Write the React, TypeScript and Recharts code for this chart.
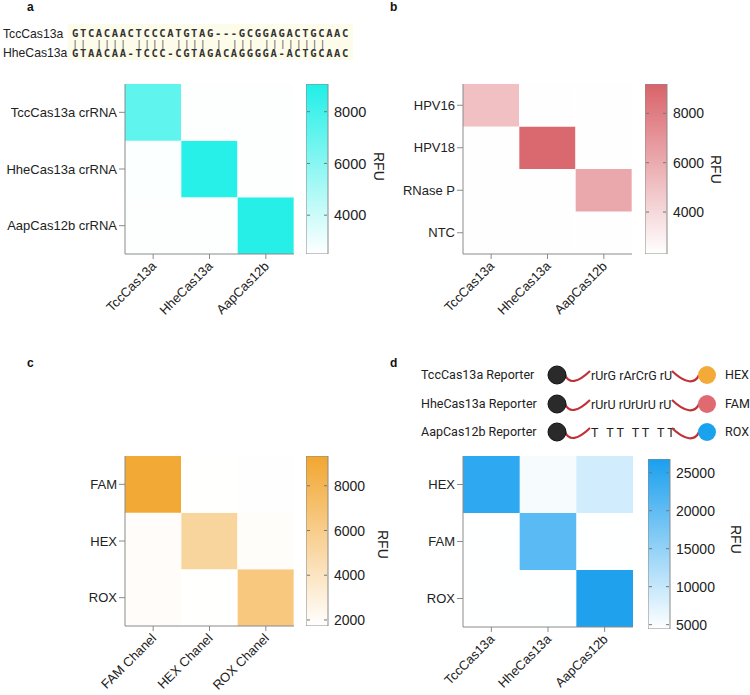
import { Bar, BarChart, Cell, XAxis, YAxis } from "recharts";

// panel a
const crRnaRows = ["TccCas13a crRNA", "HheCas13a crRNA", "AapCas12b crRNA"];
const casCols = ["TccCas13a", "HheCas13a", "AapCas12b"];
const aValues = [
  [7200, 2550, 2550],
  [2620, 8850, 2550],
  [2550, 2550, 8900],
];
const aTicks = [4000, 6000, 8000];

// panel b
const hpvRows = ["HPV16", "HPV18", "RNase P", "NTC"];
const bValues = [
  [5100, 2350, 2350],
  [2350, 8950, 2350],
  [2350, 2350, 6150],
  [2350, 2350, 2350],
];
const bTicks = [4000, 6000, 8000];

// panel c
const dyeRows = ["FAM", "HEX", "ROX"];
const chanelCols = ["FAM Chanel", "HEX Chanel", "ROX Chanel"];
const cValues = [
  [9100, 1760, 1780],
  [1950, 5300, 1900],
  [1950, 1760, 6450],
];
const cTicks = [2000, 4000, 6000, 8000];

// panel d
const reporterRows = ["HEX", "FAM", "ROX"];
const dValues = [
  [24800, 5300, 8900],
  [4500, 20500, 4500],
  [4500, 4500, 26300],
];
const dTicks = [5000, 10000, 15000, 20000, 25000];

const seqTcc = "GTCACAACTCCCATGTAG---GCGGAGACTGCAAC";
const seqMatch = "|| |||| ||||  ||||   | ||| ||||||||";
const seqHhe = "GTAACAA-TCCC-CGTAGACAGGGGA-ACTGCAAC";

const reporterNames = ["TccCas13a Reporter", "HheCas13a Reporter", "AapCas12b Reporter"];
const reporterSeqs = ["rUrG rArCrG rU", "rUrU rUrUrU rU", "T TT TT TT"];
const reporterDyes = ["HEX", "FAM", "ROX"];
const dyeColors = ["#f4aa38", "#df6b71", "#1ba2ee"];

const GRAY = "#8a8a8a";

function shade(hex: string, t: number) {
  const f = Math.max(0, Math.min(1, t));
  const c = [1, 3, 5].map((i) => parseInt(hex.slice(i, i + 2), 16));
  const m = c.map((v) => Math.round(255 + (v - 255) * f));
  return `rgb(${m[0]},${m[1]},${m[2]})`;
}

const XTick = ({ x, y, payload }: any) => (
  <text
    x={x + 4}
    y={y + 6}
    transform={`rotate(-45 ${x + 4} ${y + 6})`}
    textAnchor="end"
    fontSize={13}
    fill="#222"
  >
    {payload.value}
  </text>
);

function Heatmap({ rows, cols, values, color, lo, hi, plot }: any) {
  const n = rows.length;
  const data = cols.map((c: string) => {
    const d: any = { col: c };
    rows.forEach((_: string, i: number) => (d[`r${i}`] = 1));
    return d;
  });
  const yTicks = rows.map((_: string, i: number) => n - i - 0.5);
  const yW = 130;
  return (
    <div style={{ position: "absolute", left: plot.x - yW, top: plot.y }}>
      <BarChart
        width={yW + plot.w}
        height={plot.h + 90}
        data={data}
        margin={{ top: 0, right: 0, bottom: 0, left: 0 }}
        barCategoryGap={0}
        barGap={0}
      >
        <XAxis dataKey="col" interval={0} height={90} tickSize={5} tickMargin={2} stroke={GRAY} tick={<XTick />} />
        <XAxis xAxisId="top" orientation="top" dataKey="col" height={0} tick={false} tickLine={false} stroke={GRAY} />
        <YAxis
          type="number"
          domain={[0, n]}
          ticks={yTicks}
          interval={0}
          width={yW}
          tickSize={6}
          stroke={GRAY}
          tick={{ fill: "#222", fontSize: 13 }}
          tickFormatter={(v: number) => rows[Math.round(n - 0.5 - v)]}
        />
        <YAxis yAxisId="right" orientation="right" type="number" domain={[0, n]} width={0} tick={false} tickLine={false} stroke={GRAY} />
        {rows.map((_: string, k: number) => {
          const i = n - 1 - k;
          return (
            <Bar key={i} dataKey={`r${i}`} stackId="s" isAnimationActive={false}>
              {cols.map((c: string, j: number) => (
                <Cell key={c} fill={shade(color, (values[i][j] - lo) / (hi - lo))} />
              ))}
            </Bar>
          );
        })}
      </BarChart>
    </div>
  );
}

const CbTick = ({ x, y, payload, w, fs }: any) => (
  <g>
    <line x1={x - 4} x2={x - 1} y1={y} y2={y} stroke="#777" />
    <line x1={x - w + 1} x2={x - w + 4} y1={y} y2={y} stroke="#777" />
    <text x={x + 6} y={y} dy="0.36em" fontSize={fs} fill="#222">
      {payload.value}
    </text>
  </g>
);

function ColorBar({ id, color, lo, hi, ticks, x, y, w, h, fs }: any) {
  const pad = 10;
  return (
    <div style={{ position: "absolute", left: x, top: y - pad }}>
      <BarChart
        width={w + 70}
        height={h + 2 * pad}
        data={[{ k: "c", v: [lo, hi] }]}
        margin={{ top: pad, right: 0, bottom: pad, left: 0 }}
        barCategoryGap={0}
      >
        <defs>
          <linearGradient id={id} x1="0" y1="0" x2="0" y2="1">
            <stop offset="0" stopColor={color} />
            <stop offset="1" stopColor="#ffffff" />
          </linearGradient>
        </defs>
        <XAxis dataKey="k" hide />
        <YAxis
          orientation="right"
          type="number"
          domain={[lo, hi]}
          ticks={ticks}
          interval={0}
          width={70}
          axisLine={false}
          tickLine={false}
          tickSize={0}
          tickMargin={0}
          allowDataOverflow
          tick={<CbTick w={w} fs={fs} />}
        />
        <Bar dataKey="v" fill={`url(#${id})`} stroke={GRAY} isAnimationActive={false} />
      </BarChart>
    </div>
  );
}

function Wave({ x1, x2, y, down }: any) {
  const m = (x1 + x2) / 2;
  return (
    <path
      d={down
        ? `M${x1},${y} C${x1 + 4},${y + 9} ${m},${y + 8} ${x2},${y - 4}`
        : `M${x1},${y - 4} C${m},${y + 9} ${x2 - 4},${y + 9} ${x2},${y}`}
      fill="none"
      stroke="#c0323a"
      strokeWidth={2.2}
    />
  );
}

function Overlay() {
  const rowY = [375, 404, 432];
  return (
    <svg width={750} height={695} style={{ position: "absolute", left: 0, top: 0 }}>
      <g fontWeight="bold" fontSize={12} fill="#111">
        <text x={27} y={11}>a</text>
        <text x={390} y={11}>b</text>
        <text x={27} y={367}>c</text>
        <text x={390} y={367}>d</text>
      </g>
      <rect x={68} y={24} width={285} height={36} fill="#fdfbe9" />
      <g fontSize={12.2} fill="#222">
        <text x={3} y={38}>TccCas13a</text>
        <text x={3} y={57}>HheCas13a</text>
      </g>
      <g fontFamily="'DejaVu Sans Mono', monospace" fontWeight="bold" fill="#333" style={{ whiteSpace: "pre" }}>
        <text x={72} y={37} fontSize={10.5} letterSpacing={1.62}>{seqTcc}</text>
        <text x={72.5} y={46.5} fontSize={8.5} letterSpacing={2.87} fontWeight="normal" fill="#444">{seqMatch}</text>
        <text x={72} y={57} fontSize={10.5} letterSpacing={1.62}>{seqHhe}</text>
      </g>
      <g fontSize={14} fill="#222">
        <text transform="translate(374 152) rotate(90)">RFU</text>
        <text transform="translate(711 155) rotate(90)">RFU</text>
        <text transform="translate(378 530) rotate(90)">RFU</text>
        <text transform="translate(731 525) rotate(90)">RFU</text>
      </g>
      <g fontFamily="Roboto, sans-serif" fontSize={12.5} fill="#222">
        {reporterNames.map((name, i) => (
          <g key={name}>
            <text x={421} y={rowY[i] + 4}>{name}</text>
            <Wave x1={565} x2={590} y={rowY[i]} down />
            <text x={591} y={rowY[i] + 5} letterSpacing={i === 2 ? 2.6 : 0} style={{ whiteSpace: "pre" }}>
              {reporterSeqs[i]}
            </text>
            <Wave x1={672} x2={699} y={rowY[i]} />
            <circle cx={557} cy={rowY[i]} r={9} fill="#2a2a2a" stroke="#111" strokeWidth={1} />
            <circle cx={707} cy={rowY[i]} r={9} fill={dyeColors[i]} />
            <text x={725} y={rowY[i] + 4}>{reporterDyes[i]}</text>
          </g>
        ))}
      </g>
    </svg>
  );
}

export default function App() {
  return (
    <div
      style={{
        position: "absolute",
        left: 0,
        top: 0,
        width: 750,
        height: 695,
        background: "#fff",
        fontFamily: "'Liberation Sans', Arial, sans-serif",
      }}
    >
      <Heatmap rows={crRnaRows} cols={casCols} values={aValues} color="#20efe7" lo={2500} hi={9070} plot={{ x: 125, y: 84, w: 169, h: 170 }} />
      <ColorBar id="ga" color="#20efe7" lo={2500} hi={9070} ticks={aTicks} x={306} y={84} w={22} h={170} fs={14.5} />

      <Heatmap rows={hpvRows} cols={casCols} values={bValues} color="#d9636a" lo={2300} hi={9190} plot={{ x: 463, y: 84, w: 169, h: 170 }} />
      <ColorBar id="gb" color="#d9636a" lo={2300} hi={9190} ticks={bTicks} x={645} y={84} w={22} h={170} fs={14} />

      <Heatmap rows={dyeRows} cols={chanelCols} values={cValues} color="#f2a630" lo={1730} hi={9330} plot={{ x: 125, y: 456, w: 169, h: 170 }} />
      <ColorBar id="gc" color="#f2a630" lo={1730} hi={9330} ticks={cTicks} x={306} y={456} w={22} h={170} fs={14} />

      <Heatmap rows={reporterRows} cols={casCols} values={dValues} color="#1a9fee" lo={4430} hi={26800} plot={{ x: 463, y: 456, w: 170, h: 171 }} />
      <ColorBar id="gd" color="#1a9fee" lo={4430} hi={26800} ticks={dTicks} x={648} y={459} w={22} h={170} fs={14} />

      <Overlay />
    </div>
  );
}
